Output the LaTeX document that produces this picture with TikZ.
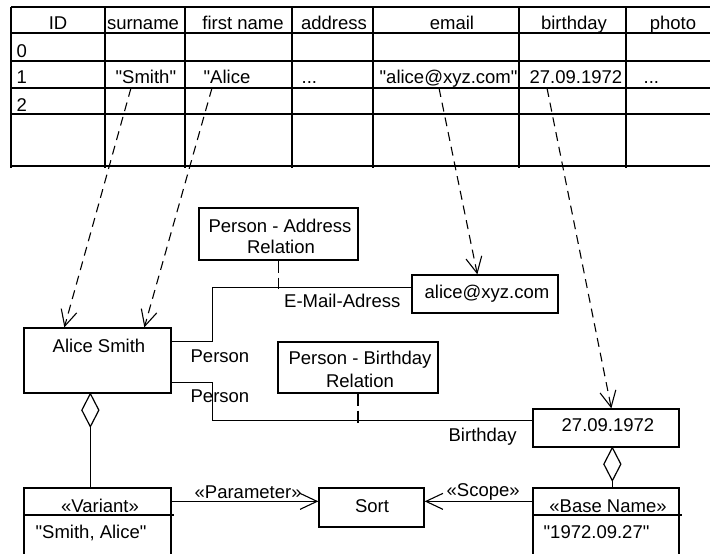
\documentclass[tikz,border=0pt]{standalone}
\usepackage{fontspec}
\setmainfont{Liberation Sans}[Ligatures=TeXOff]
\usetikzlibrary{arrows.meta,calc}

\begin{document}
\begin{tikzpicture}[x=1pt,y=-1pt,line width=1.3pt,
  every node/.style={font=\fontsize{18.5}{21}\selectfont,inner sep=0pt},
  box/.style 2 args={draw,rectangle,minimum width=#1,minimum height=#2},
  tbl/.style={line width=1.5pt},
  maplink/.style={dash pattern=on 9pt off 6pt,line width=1.1pt,
    -{Straight Barb[length=16pt,width=16pt,line width=1.1pt]}},
  rellink/.style={dash pattern=on 12pt off 5pt,line width=1.1pt},
  deplink/.style={-{Straight Barb[length=17pt,width=16pt,line width=1.1pt]}},
  txt/.style={anchor=base},
  txtw/.style={anchor=base west}]

\clip (0,0) rectangle (710,554);

% ---------- table ----------
\foreach \y in {7,33,61,88,114,166} \draw[tbl] (11,\y) -- (712,\y);
\foreach \x in {11,105,185,292,373,519,626} \draw[tbl] (\x,7) -- (\x,168);

\node[txt] (hid)    at (58,29)  {ID};
\node[txt] (hsur)   at (143,29) {surname};
\node[txt] (hfirst) at (243,29) {first name};
\node[txt] (haddr)  at (334,29) {address};
\node[txt] (hmail)  at (452,29) {email};
\node[txt] (hbday)  at (574,29) {birthday};
\node[txt] (hphoto) at (673,29) {photo};

\node[txtw] (r0) at (16,57)  {0};
\node[txtw] (r1) at (16,83)  {1};
\node[txtw] (r2) at (16,111) {2};

\node[txtw] (csur)   at (115,83) {"Smith"};
\node[txtw] (cfirst) at (203,83) {"Alice};
\node[txtw] (caddr)  at (301,83) {...};
\node[txtw] (cmail)  at (379,83) {"alice@xyz.com"};
\node[txtw] (cbday)  at (529,83) {27.09.1972};
\node[txtw] (cphoto) at (643,83) {...};

\coordinate (fromsur)   at (131,88);
\coordinate (fromfirst) at (212,88);
\coordinate (frommail)  at (439,88);
\coordinate (frombday)  at (547,88);

% ---------- object boxes ----------
\node[box={147}{65}]  (alice)   at (97.5,360.5) {};
\node[box={159}{52}]  (addrrel) at (278.5,234)  {};
\node[box={146}{38}]  (email)   at (485,294)    {};
\node[box={160}{51}]  (bdrel)   at (358,367.5)  {};
\node[box={146}{38}]  (date)    at (606,428)    {};
\node[box={147}{72}]  (variant) at (97.5,524)   {};
\node[box={105}{39}]  (sort)    at (371.5,507.5){};
\node[box={146}{72}]  (base)    at (606,524)    {};

\node[txt] (alicetxt) at (99,352) {Alice Smith};
\node[txt] (addrrel1) at (280,232) {Person - Address};
\node[txt] (addrrel2) at (281,253) {Relation};
\node[txt] (emailtxt) at (487,298) {alice@xyz.com};
\node[txt] (bdrel1)   at (360,364) {Person - Birthday};
\node[txt] (bdrel2)   at (360,387) {Relation};
\node[txt] (datetxt)  at (608,431) {27.09.1972};
\node[txt] (varhead)  at (100,512) {«Variant»};
\node[txtw] (varval)  at (35,538)  {"Smith, Alice"};
\node[txt] (sorttxt)  at (372,512) {Sort};
\node[txt] (basehead) at (608,512) {«Base Name»};
\node[txtw] (baseval) at (543,538) {"1972.09.27"};

% compartment separators
\draw ([yshift=-27.5pt]variant.north west) -- ([yshift=-27.5pt,xshift=2pt]variant.north east);
\draw ([yshift=-27.5pt]base.north west) -- ([yshift=-27.5pt,xshift=2pt]base.north east);

% ---------- mapping from table to objects ----------
\draw[maplink] (fromsur)   -- ($(alice.north west)+(41,0)$);
\draw[maplink] (fromfirst) -- ($(alice.north west)+(121,0)$);
\draw[maplink] (frommail)  -- ($(email.north west)+(66,0)$);
\draw[maplink] (frombday)  -- ($(date.north west)+(79,0)$);

% ---------- associations ----------
\draw ($(alice.north east)+(0,14)$) -- ++(41,0) |- ($(email.north west)+(0,13)$);
\draw ($(alice.south east)+(0,-11)$) -- ++(41,0) |- ($(date.north west)+(0,12)$);
\draw[rellink] (addrrel.south) -- ++(0,28);
\draw[rellink] (bdrel.south) -- ++(0,29);

\node[anchor=base east] (mailrole) at (401,307) {E-Mail-Adress};
\node[txtw] (role1) at (190,362) {Person};
\node[txtw] (role2) at (190,402) {Person};
\node[txtw] (bdrole) at (448,441) {Birthday};

% ---------- aggregations ----------
\coordinate (dtopA) at ($(alice.south west)+(67,0)$);
\draw[line width=1.2pt] (dtopA) -- ++(8.5,16.5) -- ++(-8.5,16.5) coordinate (dbotA) -- ++(-8.5,-16.5) -- cycle;
\draw (dbotA) -- (dbotA |- variant.north);

\coordinate (dtopB) at ($(date.south west)+(80,0)$);
\draw[line width=1.2pt] (dtopB) -- ++(8.5,16.5) -- ++(-8.5,16.5) coordinate (dbotB) -- ++(-8.5,-16.5) -- cycle;
\draw (dbotB) -- (dbotB |- base.north);

% ---------- dependencies ----------
\draw[deplink] ($(variant.north east)+(0,14)$) -- ($(sort.north west)+(0,14)$);
\draw[deplink] ($(base.north west)+(0,14)$) -- ($(sort.north east)+(0,14)$);
\node[txtw] (paramlbl) at (194,498) {«Parameter»};
\node[txtw] (scopelbl) at (446,496) {«Scope»};

\end{tikzpicture}
\end{document}
